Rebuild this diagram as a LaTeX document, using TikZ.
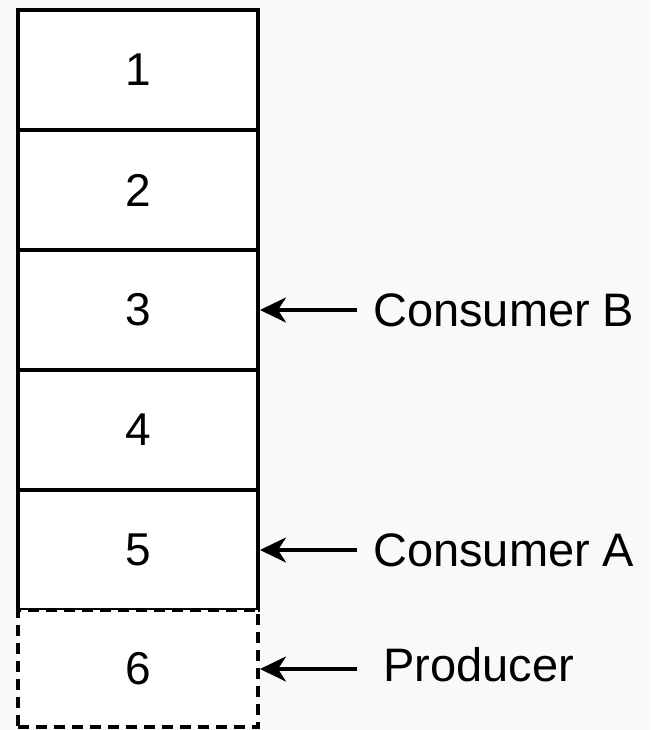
\documentclass[tikz,border=0pt]{standalone}
\usepackage{fontspec}
\setmainfont{Liberation Sans}
\usetikzlibrary{arrows.meta}
\definecolor{pagebg}{HTML}{F8F9FB}
\begin{document}
\begin{tikzpicture}[x=1pt,y=-1pt,
  cell/.style={draw=black,fill=white,line width=4pt,minimum width=240pt,minimum height=120pt,inner sep=0pt,font=\fontsize{46}{50}\selectfont},
  pending/.style={cell,dashed,dash pattern=on 11pt off 7pt},
  pointer/.style={line width=3.5pt,-{Stealth[length=26pt,width=25pt,inset=8pt]}},
  tag/.style={anchor=west,inner sep=0pt,font=\fontsize{47}{52}\selectfont}]
  \fill[pagebg] (0,0) rectangle (650,730);
  \useasboundingbox (0,0) rectangle (650,730);
  % the queue cells
  \node[cell] (c1) at (138,70) {1};
  \node[cell] (c2) at (138,190) {2};
  \node[cell] (c3) at (138,310) {3};
  \node[cell] (c4) at (138,430) {4};
  \node[cell] (c5) at (138,550) {5};
  \node[pending,minimum height=117pt] (c6) at (138,668.5) {6};
  % pointer labels
  \node[tag] (cb) at (373,310) {Consumer B};
  \node[tag] (ca) at (373,550) {Consumer A};
  \node[tag] (pr) at (383,665) {Producer};
  \coordinate (cbs) at (357,310);
  \coordinate (cas) at (357,550);
  \coordinate (prs) at (357,669);
  \draw[pointer] (cbs) -- (c3.east);
  \draw[pointer] (cas) -- (c5.east);
  \draw[pointer] (prs) -- (c6.east |- prs);
\end{tikzpicture}
\end{document}
